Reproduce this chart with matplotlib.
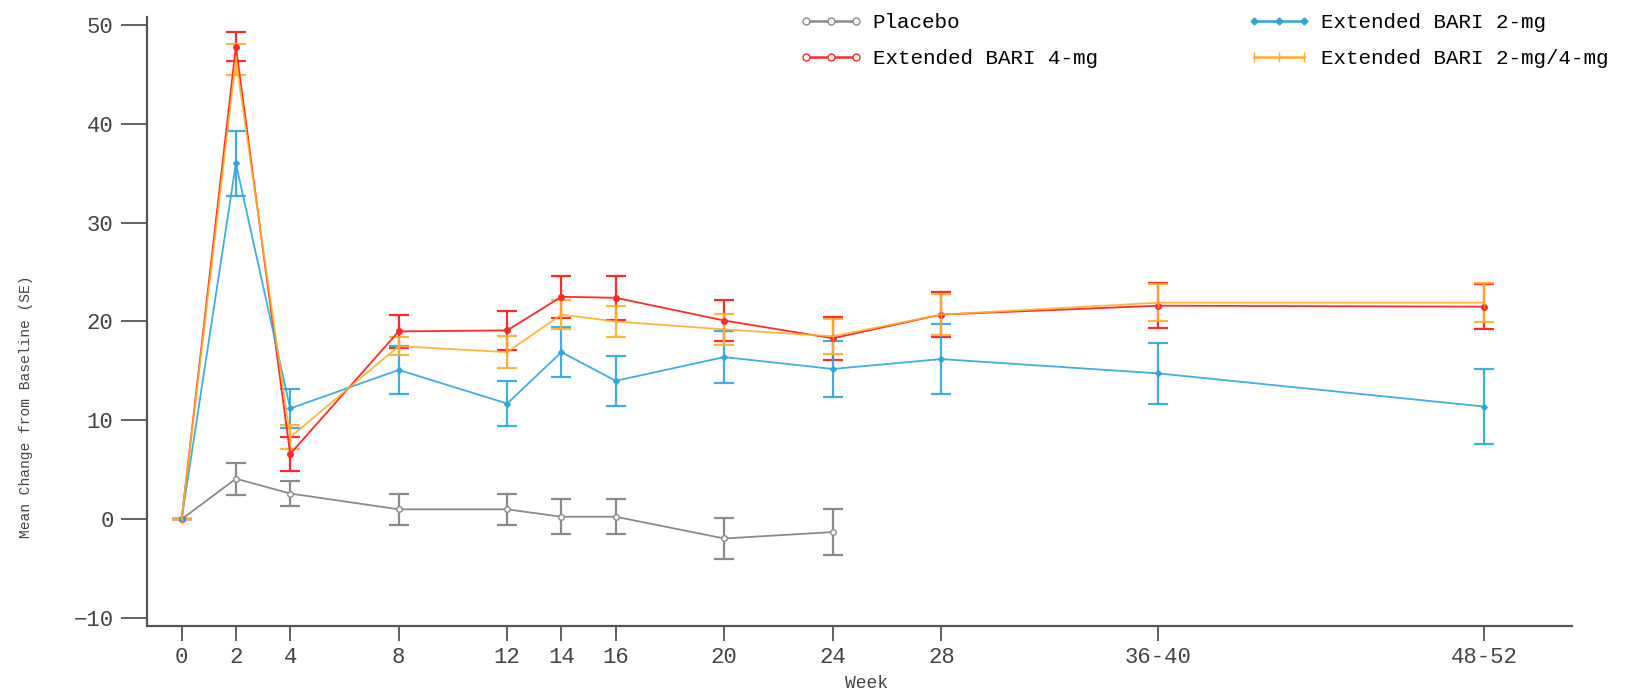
import matplotlib
matplotlib.use("Agg")
import matplotlib.pyplot as plt
from matplotlib.lines import Line2D

# x positions (weeks) and their tick labels
weeks = [0, 2, 4, 8, 12, 14, 16, 20, 24, 28, 36, 48]
week_labels = ["0", "2", "4", "8", "12", "14", "16", "20", "24", "28", "36-40", "48-52"]

# Placebo (only up to week 24)
placebo_x = [0, 2, 4, 8, 12, 14, 16, 20, 24]
placebo = [0, 4.1, 2.6, 1.0, 1.0, 0.25, 0.25, -1.95, -1.3]
placebo_se = [0, 1.6, 1.25, 1.6, 1.6, 1.75, 1.75, 2.05, 2.3]

bari2 = [0, 36.0, 11.2, 15.1, 11.7, 16.9, 14.0, 16.4, 15.2, 16.2, 14.75, 11.4]
bari2_se = [0, 3.3, 2.0, 2.4, 2.3, 2.55, 2.5, 2.6, 2.8, 3.5, 3.1, 3.8]

bari4 = [0, 47.8, 6.6, 19.0, 19.1, 22.5, 22.4, 20.1, 18.3, 20.7, 21.6, 21.5]
bari4_se = [0, 1.5, 1.7, 1.7, 2.0, 2.1, 2.2, 2.1, 2.2, 2.3, 2.3, 2.3]

bari24 = [0, 46.5, 8.3, 17.5, 16.9, 20.7, 20.0, 19.2, 18.5, 20.7, 21.9, 21.9]
bari24_se = [0, 1.6, 1.2, 0.9, 1.6, 1.5, 1.6, 1.6, 1.8, 2.1, 1.9, 2.0]

names = ["Placebo", "Extended BARI 4-mg", "Extended BARI 2-mg", "Extended BARI 2-mg/4-mg"]
colors = ["#8a8a8a", "#ff2a2a", "#2aa5dd", "#ffae2a"]
markers = ["o", "o", "D", "|"]

plt.rcParams["font.family"] = ["Liberation Mono", "DejaVu Sans Mono"]

fig = plt.figure(figsize=(16.49, 6.94), dpi=100)
ax = fig.add_axes([0.0891, 0.098, 0.8642, 0.8775])

style = dict(capsize=7, elinewidth=1.6, capthick=1.6, linewidth=1.3)

ax.errorbar(placebo_x, placebo, yerr=placebo_se, color=colors[0], marker="o",
            markersize=4, markerfacecolor="white", **style)
ax.errorbar(weeks, bari4, yerr=bari4_se, color=colors[1], marker="o",
            markersize=4, **style)
ax.errorbar(weeks, bari2, yerr=bari2_se, color=colors[2], marker="D",
            markersize=3, alpha=0.9, **style)
ax.errorbar(weeks, bari24, yerr=bari24_se, color=colors[3], marker="|",
            markersize=7, alpha=0.9, **style)

ax.set_xlim(-1.28, 51.25)
ax.set_ylim(-10.8, 50.8)
ax.set_xticks(weeks)
ax.set_xticklabels(week_labels)
ax.set_yticks([-10, 0, 10, 20, 30, 40, 50])

for s in ["top", "right"]:
    ax.spines[s].set_visible(False)
for s in ["left", "bottom"]:
    ax.spines[s].set_color("#555555")
    ax.spines[s].set_linewidth(1.6)
ax.tick_params(axis="both", colors="#555555", labelcolor="#444444", labelsize=16,
               width=1.3)
ax.tick_params(axis="x", length=11, pad=4)
ax.tick_params(axis="y", length=19, pad=5)

ax.set_xlabel("Week", fontsize=13, color="#444444", va="center")
ax.xaxis.set_label_coords(0.505, -0.094)
ax.set_ylabel("Mean Change from Baseline (SE)", fontsize=10.5, color="#444444")
ax.yaxis.set_label_coords(-0.08, 0.36)

handles = [Line2D([], [], color=c, marker=m, markersize=ms, linewidth=1.8,
                  markerfacecolor=fc)
           for c, m, ms, fc in zip(colors, markers, [5, 5, 3.5, 7],
                                   ["white", "white", colors[2], colors[3]])]
ax.legend(handles, names, ncol=2, numpoints=3, loc="upper left",
          bbox_to_anchor=(0.445, 1.037), frameon=False, fontsize=15,
          columnspacing=7.2, handlelength=3, handletextpad=0.5, labelspacing=0.82)

plt.savefig("out.png", dpi=100)
